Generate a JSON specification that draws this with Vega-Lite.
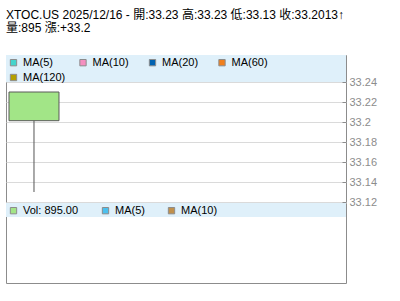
{
  "$schema": "https://vega.github.io/schema/vega-lite/v6.json",
  "padding": {"left": 5, "top": 8, "right": 0, "bottom": 0},
  "bounds": "flush",
  "title": {
    "text": "XTOC.US 2025/12/16 - 開:33.23 高:33.23 低:33.13 收:33.2013↑",
    "subtitle": "量:895 漲:+33.2",
    "anchor": "start",
    "frame": "group",
    "font": "Liberation Sans, Noto Sans CJK TC",
    "fontSize": 12,
    "fontWeight": "normal",
    "color": "black",
    "subtitleFont": "Liberation Sans, Noto Sans CJK TC",
    "subtitleFontSize": 12,
    "subtitleColor": "black",
    "subtitlePadding": 1,
    "offset": 20
  },
  "datasets": {
    "candles": [
      {"date": "2025/12/16", "open": 33.23, "high": 33.23, "low": 33.13, "close": 33.2013, "volume": 895}
    ]
  },
  "spacing": 1,
  "vconcat": [
    {
      "width": 340,
      "height": 147,
      "data": {"name": "candles"},
      "layer": [
        {
          "mark": {"type": "rect", "fill": "#dff0fa"},
          "encoding": {
            "y": {
              "datum": 33.24,
              "type": "quantitative",
              "scale": {"domain": [33.12, 33.267], "nice": false, "zero": false},
              "axis": {
                "orient": "right",
                "values": [33.12, 33.14, 33.16, 33.18, 33.2, 33.22, 33.24],
                "tickCount": 20,
                "format": "~g",
                "grid": true,
                "gridColor": "#dadada",
                "domain": false,
                "tickSize": -4,
                "tickColor": "#8c8c8c",
                "labelColor": "#8c8c8c",
                "labelFontSize": 11,
                "labelFont": "Liberation Sans",
                "labelPadding": 7,
                "labelFlush": false,
                "labelOverlap": false,
                "title": null
              }
            },
            "y2": {"datum": 33.267}
          }
        },
        {
          "mark": {"type": "square", "opacity": 0},
          "encoding": {
            "fill": {
              "datum": "MA(5)",
              "type": "nominal",
              "scale": {
                "domain": ["MA(5)", "MA(10)", "MA(20)", "MA(60)", "MA(120)"],
                "range": ["#44d4cc", "#f58fc0", "#0062b0", "#f07f1c", "#b4a000"]
              },
              "legend": {
                "gridAlign": "all",
                "columnPadding": 11.5,
                "encode": {"symbols": {"update": {"opacity": {"value": 1}, "stroke": {"value": "#8c8c8c"}, "strokeWidth": {"value": 1}}}}
              }
            }
          }
        },
        {
          "mark": {"type": "rule", "color": "#555555", "strokeWidth": 1},
          "encoding": {
            "x": {
              "field": "date",
              "type": "temporal",
              "scale": {"domain": [{"year": 2025, "month": 12, "date": 15, "hours": 12}, {"year": 2025, "month": 12, "date": 21, "hours": 13, "minutes": 43}], "nice": false, "padding": 0},
              "axis": null
            },
            "y": {"field": "low", "type": "quantitative", "title": null},
            "y2": {"field": "high"}
          }
        },
        {
          "mark": {"type": "bar", "fill": "#a2e587", "stroke": "#5a5a5a", "strokeWidth": 1, "size": 50},
          "encoding": {
            "x": {"field": "date", "type": "temporal"},
            "y": {"field": "open", "type": "quantitative", "title": null},
            "y2": {"field": "close"}
          }
        }
      ]
    },
    {
      "width": 340,
      "height": 80,
      "data": {"name": "candles"},
      "layer": [
        {
          "mark": {"type": "rect", "fill": "#dff0fa"},
          "encoding": {
            "y": {"datum": 825, "type": "quantitative", "scale": {"domain": [0, 1000], "nice": false}, "axis": null},
            "y2": {"datum": 1000}
          }
        },
        {
          "mark": {"type": "square", "opacity": 0},
          "encoding": {
            "fill": {
              "datum": "Vol: 895.00",
              "type": "nominal",
              "scale": {
                "domain": ["Vol: 895.00", "MA(5)", "MA(10)"],
                "range": ["#a2e587", "#4cc0ee", "#c0904c"]
              },
              "legend": {
                "gridAlign": "each",
                "columnPadding": 21,
                "encode": {"symbols": {"update": {"opacity": {"value": 1}, "stroke": {"value": "#8c8c8c"}, "strokeWidth": {"value": 1}}}}
              }
            }
          }
        }
      ]
    }
  ],
  "resolve": {
    "scale": {"fill": "independent", "x": "independent", "y": "independent"},
    "legend": {"fill": "independent"}
  },
  "config": {
    "font": "Liberation Sans",
    "view": {"stroke": "#8c8c8c", "strokeWidth": 1},
    "legend": {
      "orient": "top-left",
      "offset": 2,
      "padding": 0,
      "direction": "horizontal",
      "columns": 4,
      "rowPadding": 3,
      "symbolType": "square",
      "symbolSize": 40,
      "labelFontSize": 11,
      "labelFont": "Liberation Sans",
      "labelColor": "black",
      "labelOffset": 4,
      "title": null
    }
  }
}
